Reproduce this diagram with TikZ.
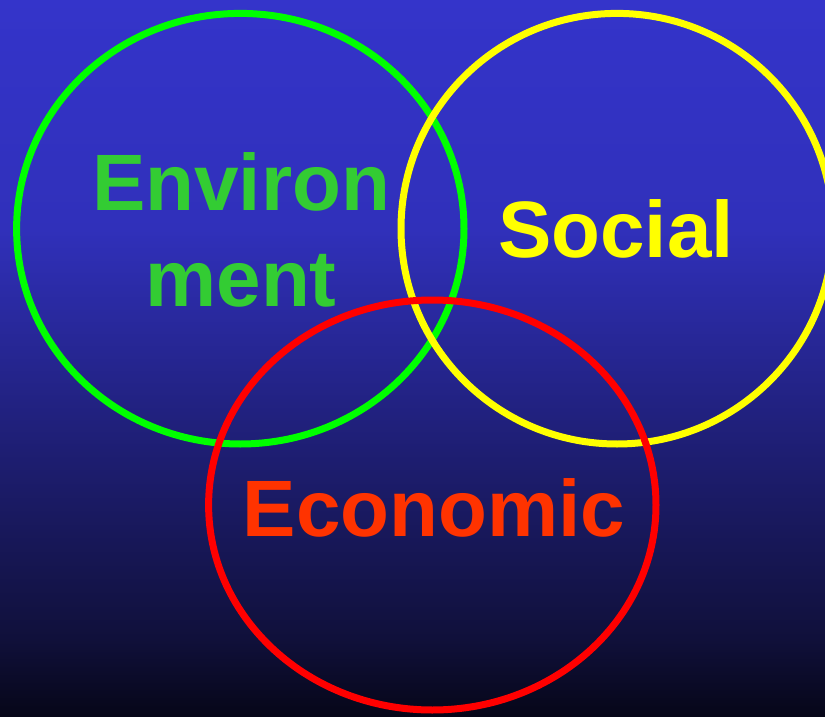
\documentclass[tikz,border=0pt]{standalone}
\usepackage{fontspec}
\setmainfont{Liberation Sans}
\definecolor{bgA}{RGB}{52,52,202}
\definecolor{bgB}{RGB}{48,48,186}
\definecolor{bgC}{RGB}{30,30,115}
\definecolor{bgD}{RGB}{16,16,58}
\definecolor{bgE}{RGB}{6,6,24}
\definecolor{envgreen}{RGB}{51,204,51}
\definecolor{ringgreen}{RGB}{0,255,0}
\definecolor{ringyellow}{RGB}{255,255,0}
\definecolor{ringred}{RGB}{255,0,0}
\definecolor{ecored}{RGB}{255,51,0}
\tikzset{
  ring/.style={line width=7pt},
  label/.style={inner sep=0pt, anchor=base, font=\fontsize{80}{96}\selectfont\bfseries}
}
\begin{document}
\begin{tikzpicture}[x=1pt,y=-1pt]
\useasboundingbox (0,0) rectangle (825,717);
% background gradient
\shade[top color=bgA, bottom color=bgB, draw=none] (0,0) rectangle (825,230);
\shade[top color=bgB, bottom color=bgC, draw=none] (0,229.5) rectangle (825,450);
\shade[top color=bgC, bottom color=bgD, draw=none] (0,449.5) rectangle (825,640);
\shade[top color=bgD, bottom color=bgE, draw=none] (0,639.5) rectangle (825,717);
% rings
\draw[ring, ringgreen] (240.3,228.7) ellipse [x radius=223.7, y radius=215.3];
\draw[ring, ringyellow] (617,228.7) ellipse [x radius=216, y radius=215.3];
\draw[ring, ringred] (432.3,505) ellipse [x radius=223.7, y radius=205];
% labels
\node[label, text=envgreen] (env1) at (241,210.7) {Environ};
\node[label, text=envgreen] (env2) at (241,306.7) {ment};
\node[label, text=ringyellow] (soc) at (616,257) {Social};
\node[label, text=ecored] (eco) at (434,536.7) {Economic};
\end{tikzpicture}
\end{document}
